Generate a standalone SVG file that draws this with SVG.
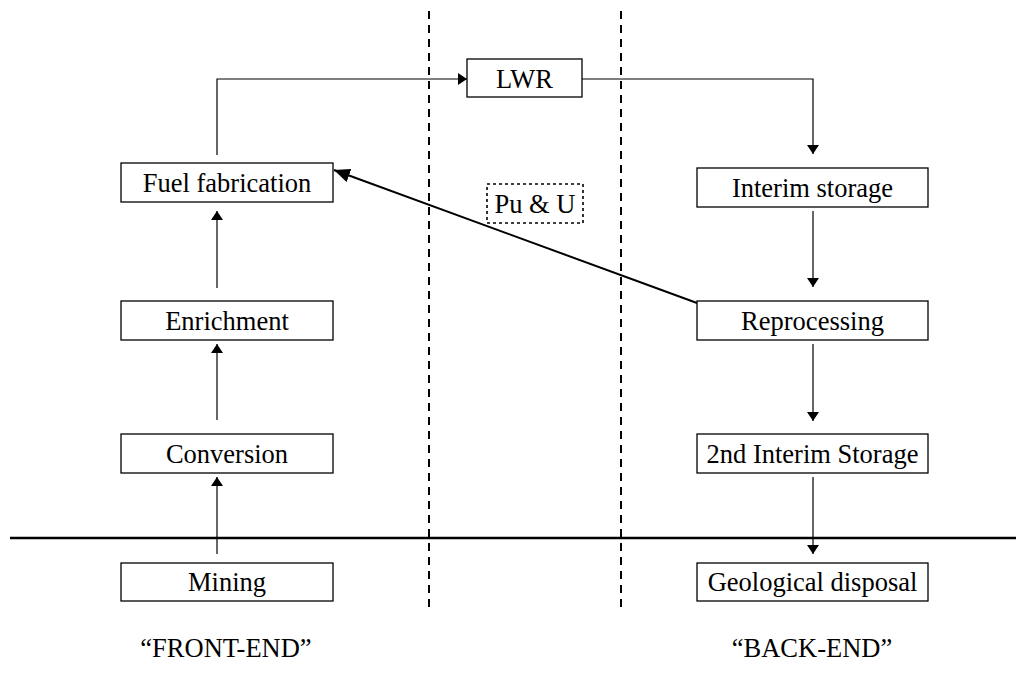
<svg xmlns="http://www.w3.org/2000/svg" width="1016" height="679" viewBox="0 0 1016 679">
  <style>
    .box { fill: #ffffff; stroke: #000000; stroke-width: 1.3; }
    .dashbox { fill: #ffffff; stroke: #000000; stroke-width: 1.6; stroke-dasharray: 3 3; }
    .lbl { font-family: "Liberation Serif", "Times New Roman", serif; font-size: 26.5px; fill: #000000; text-anchor: middle; }
    .edge { fill: none; stroke: #000000; stroke-width: 1.2; }
    .thick { fill: none; stroke: #000000; stroke-width: 2; }
    .divider { fill: none; stroke: #000000; stroke-width: 2; stroke-dasharray: 8 6; }
  </style>
  <defs>
    <marker id="head" markerUnits="userSpaceOnUse" markerWidth="12" markerHeight="12" refX="9" refY="6" orient="auto">
      <path d="M0,0 L9,6 L0,12 Z" fill="#000000"/>
    </marker>
    <marker id="headBig" markerUnits="userSpaceOnUse" markerWidth="18" markerHeight="14" refX="16" refY="7" orient="auto">
      <path d="M0,0 L16,7 L0,14 Z" fill="#000000"/>
    </marker>
  </defs>

  <rect width="1016" height="679" fill="#ffffff"/>

  <!-- section dividers -->
  <g id="dividers">
    <line class="divider" x1="429" y1="11" x2="429" y2="608"/>
    <line class="divider" x1="621" y1="11" x2="621" y2="608"/>
    <line x1="10" y1="538" x2="1016" y2="538" stroke="#000000" stroke-width="2.5"/>
  </g>

  <!-- connectors -->
  <g id="connectors">
    <line class="edge" x1="217" y1="554" x2="217" y2="477" marker-end="url(#head)"/>
    <line class="edge" x1="217" y1="420" x2="217" y2="344" marker-end="url(#head)"/>
    <line class="edge" x1="217" y1="288" x2="217" y2="211" marker-end="url(#head)"/>
    <polyline class="edge" points="217,155 217,79 467,79" marker-end="url(#head)"/>
    <polyline class="edge" points="582,79 813,79 813,154" marker-end="url(#head)"/>
    <line class="edge" x1="813" y1="211" x2="813" y2="287" marker-end="url(#head)"/>
    <line class="edge" x1="813" y1="344" x2="813" y2="421" marker-end="url(#head)"/>
    <line class="edge" x1="813" y1="477" x2="813" y2="554" marker-end="url(#head)"/>
    <line class="thick" x1="697" y1="303" x2="334" y2="170" marker-end="url(#headBig)"/>
  </g>

  <!-- front-end nodes -->
  <g id="fuel-fabrication">
    <rect class="box" x="121" y="163" width="212" height="39"/>
    <text class="lbl" x="227" y="192">Fuel fabrication</text>
  </g>
  <g id="enrichment">
    <rect class="box" x="121" y="301" width="212" height="39"/>
    <text class="lbl" x="227" y="330">Enrichment</text>
  </g>
  <g id="conversion">
    <rect class="box" x="121" y="434" width="212" height="39"/>
    <text class="lbl" x="227" y="463">Conversion</text>
  </g>
  <g id="mining">
    <rect class="box" x="121" y="563" width="212" height="38"/>
    <text class="lbl" x="227" y="591">Mining</text>
  </g>

  <!-- reactor -->
  <g id="lwr">
    <rect class="box" x="467" y="59" width="115" height="38"/>
    <text class="lbl" x="524.5" y="88">LWR</text>
  </g>

  <!-- recycled material label -->
  <g id="pu-u">
    <rect class="dashbox" x="487" y="184" width="96" height="39"/>
    <text class="lbl" x="535" y="213">Pu &amp; U</text>
  </g>

  <!-- back-end nodes -->
  <g id="interim-storage">
    <rect class="box" x="697" y="168" width="231" height="39"/>
    <text class="lbl" x="812.5" y="197">Interim storage</text>
  </g>
  <g id="reprocessing">
    <rect class="box" x="697" y="301" width="231" height="39"/>
    <text class="lbl" x="812.5" y="330">Reprocessing</text>
  </g>
  <g id="second-interim-storage">
    <rect class="box" x="697" y="434" width="231" height="39"/>
    <text class="lbl" x="812.5" y="463">2nd Interim Storage</text>
  </g>
  <g id="geological-disposal">
    <rect class="box" x="697" y="563" width="231" height="38"/>
    <text class="lbl" x="812.5" y="591">Geological disposal</text>
  </g>

  <!-- section captions -->
  <g id="captions">
    <text class="lbl" x="226" y="657">“FRONT-END”</text>
    <text class="lbl" x="812" y="657">“BACK-END”</text>
  </g>
</svg>
